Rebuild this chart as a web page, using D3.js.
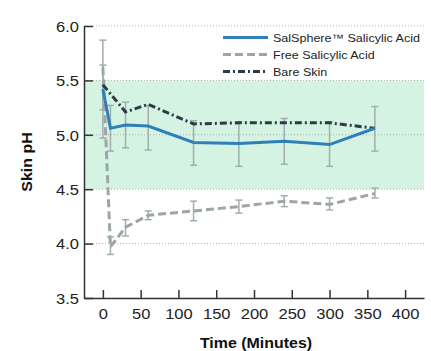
<!DOCTYPE html>
<html lang="en">
  <head>
    <meta charset="utf-8"/>
    <script src="https://d3js.org/d3.v7.min.js"></script>
    <title>Skin pH</title>
  </head>
  <body style="margin:0">
    <div id="chart"></div>
  </body>
</html>

<style>
  svg { font-family: "Liberation Sans", Arial, sans-serif; }
</style>

<script>
  const width = 431;
  const height = 351;
  const margin = {top: 26, right: 7, bottom: 53, left: 84};
  const stretch = 1.14; // the type in the picture is a little wide

  // data
  const times = [0, 10, 30, 60, 120, 180, 240, 300, 360];
  const salSphere = [5.42, 5.06, 5.09, 5.08, 4.93, 4.92, 4.94, 4.91, 5.06];
  const salSphereHi = [5.87, 5.27, 5.30, 5.27, 5.13, 5.12, 5.15, 5.12, 5.26];
  const salSphereLo = [4.97, 4.85, 4.88, 4.86, 4.72, 4.71, 4.73, 4.71, 4.85];
  const freeSA = [5.62, 3.97, 4.15, 4.26, 4.30, 4.34, 4.39, 4.36, 4.46];
  const freeSAHi = [null, 4.06, 4.22, 4.30, 4.39, 4.40, 4.44, 4.42, 4.51];
  const freeSALo = [null, 3.90, 4.07, 4.22, 4.21, 4.28, 4.34, 4.31, 4.42];
  const bareTimes = [0, 30, 60, 120, 180, 240, 300, 360];
  const bareSkin = [5.46, 5.21, 5.28, 5.10, 5.11, 5.11, 5.11, 5.06];
  const bareHi = [5.64, null, null, null, null, null, null, null];
  const bareLo = [5.23, null, null, null, null, null, null, null];
  const xTicks = [0, 50, 100, 150, 200, 250, 300, 350, 400];
  const yTicks = [3.5, 4.0, 4.5, 5.0, 5.5, 6.0];
  const normalRange = [4.5, 5.5];

  const series = [
    {name: "SalSphere\u2122 Salicylic Acid", t: times, v: salSphere, hi: salSphereHi, lo: salSphereLo,
     color: "#2f7fba", dash: null},
    {name: "Free Salicylic Acid", t: times, v: freeSA, hi: freeSAHi, lo: freeSALo,
     color: "#9ca6a6", dash: "8,4"},
    {name: "Bare Skin", t: bareTimes, v: bareSkin, hi: bareHi, lo: bareLo,
     color: "#2e3a44", dash: "7,3,2,3"}
  ];

  // move x/y into a transform so the glyphs can be widened
  const widen = (sel) => {
    sel.each(function() {
      const t = d3.select(this);
      const tx = +t.attr("x") || 0;
      const ty = +t.attr("y") || 0;
      t.attr("x", 0).attr("y", 0)
        .attr("transform", "translate(" + tx + "," + ty + ") scale(" + stretch + ",1)");
    });
  };

  const svg = d3.select("#chart").append("svg")
    .attr("width", width)
    .attr("height", height);

  const x = d3.scaleLinear().domain([-25, 425]).range([margin.left, width - margin.right]);
  const y = d3.scaleLinear().domain([3.5, 6.0]).range([height - margin.bottom, margin.top]);

  // normal skin pH band
  svg.append("rect")
    .attr("x", x(-25))
    .attr("width", x(425) - x(-25))
    .attr("y", y(normalRange[1]))
    .attr("height", y(normalRange[0]) - y(normalRange[1]))
    .attr("fill", "#d5f3e2");

  // dotted grid
  svg.append("g").selectAll("line")
    .data(yTicks.filter((d) => d > 3.5))
    .enter().append("line")
    .attr("x1", x(-25)).attr("x2", x(425))
    .attr("y1", (d) => y(d)).attr("y2", (d) => y(d))
    .attr("stroke", "#b0b0b0")
    .attr("stroke-width", 1)
    .attr("stroke-dasharray", "1,2");

  // error bars
  const eg = svg.append("g");
  series.forEach((s) => {
    s.t.forEach((t, i) => {
      if (s.hi[i] == null) return;
      const cx = x(t);
      eg.append("line")
        .attr("x1", cx).attr("x2", cx)
        .attr("y1", y(s.hi[i])).attr("y2", y(s.lo[i]))
        .attr("stroke", "#a3adad").attr("stroke-width", 1.5);
      [s.hi[i], s.lo[i]].forEach((v) => {
        eg.append("line")
          .attr("x1", cx - 3.5).attr("x2", cx + 3.5)
          .attr("y1", y(v)).attr("y2", y(v))
          .attr("stroke", "#a3adad").attr("stroke-width", 1.5);
      });
    });
  });

  const line = d3.line()
    .x((d) => x(d[0]))
    .y((d) => y(d[1]));

  // free first, then bare skin, then salsphere on top
  [series[1], series[2], series[0]].forEach((s) => {
    svg.append("path")
      .datum(s.t.map((t, i) => [t, s.v[i]]))
      .attr("fill", "none")
      .attr("stroke", s.color)
      .attr("stroke-width", 3)
      .attr("stroke-dasharray", s.dash)
      .attr("d", line);
  });

  // axes
  const xAxis = svg.append("g")
    .attr("transform", "translate(0," + y(3.5) + ")")
    .call(d3.axisBottom(x).tickValues(xTicks).tickSizeInner(-8).tickSizeOuter(0).tickPadding(11));
  const yAxis = svg.append("g")
    .attr("transform", "translate(" + x(-25) + ",0)")
    .call(d3.axisLeft(y).tickValues(yTicks).tickFormat(d3.format(".1f"))
      .tickSizeInner(-9).tickSizeOuter(0).tickPadding(5));

  [xAxis, yAxis].forEach((a) => {
    a.select(".domain").attr("stroke", "#333").attr("stroke-width", 1.5);
    a.selectAll(".tick line").attr("stroke", "#333").attr("stroke-width", 1.5);
    a.selectAll(".tick text")
      .attr("fill", "#222")
      .style("font-size", "14.5px")
      .style("font-family", "Liberation Sans, Arial, sans-serif");
    widen(a.selectAll(".tick text"));
  });
  yAxis.selectAll(".tick text").attr("dy", "0.36em");

  svg.append("text")
    .attr("x", 256).attr("y", 348)
    .attr("text-anchor", "middle")
    .style("font-size", "14px").style("font-weight", "bold")
    .attr("fill", "#111")
    .text("Time (Minutes)")
    .call(widen);

  svg.append("text")
    .attr("transform", "translate(32,162) rotate(-90) scale(" + stretch + ",1)")
    .attr("text-anchor", "middle")
    .style("font-size", "14px").style("font-weight", "bold")
    .attr("fill", "#111")
    .text("Skin pH");

  // legend
  const legend = svg.append("g").attr("transform", "translate(223,37.5)");
  series.forEach((s, i) => {
    const row = legend.append("g").attr("transform", "translate(0," + (i * 17) + ")");
    row.append("line")
      .attr("x1", 0).attr("x2", 45)
      .attr("stroke", s.color)
      .attr("stroke-width", 3)
      .attr("stroke-dasharray", s.dash);
    row.append("text")
      .attr("x", 50).attr("y", 4.5)
      .style("font-size", "11px")
      .attr("fill", "#222")
      .text(s.name)
      .call(widen);
  });
</script>
